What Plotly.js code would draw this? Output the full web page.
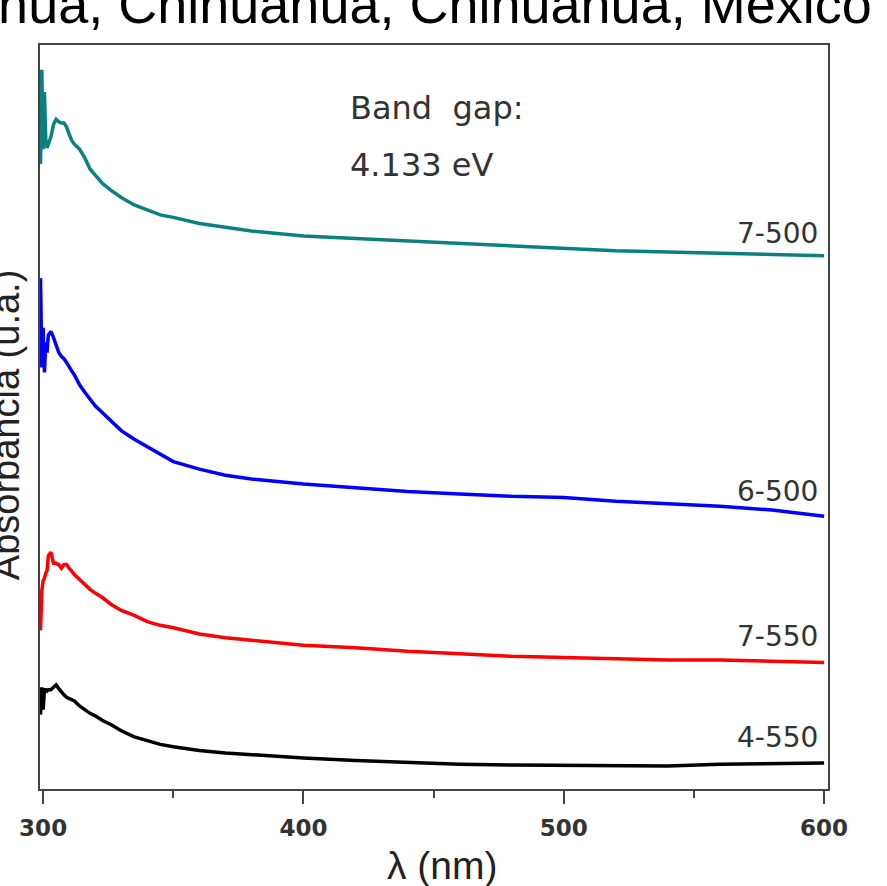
<!DOCTYPE html>
<html>
<head>
<meta charset="utf-8">
<script src="https://cdn.plot.ly/plotly-3.0.1.min.js"></script>
<style>
  html, body { margin: 0; padding: 0; background: #fff; overflow: hidden; }
  #chart { width: 887px; height: 886px; }
</style>
</head>
<body>
<div id="chart"></div>
<script>
// Wavelength grid (nm), finer where the spectra are noisy near 300 nm
const wavelength = [299, 299.5, 300, 300.5, 301, 301.5, 302, 303, 304, 305, 306, 307, 308, 309, 310, 311, 312,
  314, 316, 318, 320, 323, 326, 330, 335, 340, 345, 350, 360, 370, 380, 390, 400,
  420, 440, 460, 480, 500, 520, 540, 560, 580, 600];

// Absorbance (a.u.), curves stacked vertically
const abs_7_500 = [2.52, 2.90, 2.58, 2.81, 2.62, 2.585, 2.60, 2.63, 2.68, 2.70, 2.69, 2.685, 2.685, 2.67, 2.64, 2.615, 2.60,
  2.58, 2.545, 2.50, 2.475, 2.44, 2.415, 2.385, 2.355, 2.335, 2.315, 2.305, 2.28, 2.265, 2.25, 2.24, 2.23,
  2.22, 2.21, 2.20, 2.19, 2.18, 2.17, 2.165, 2.16, 2.155, 2.15];

const abs_6_500 = [2.06, 1.70, 1.86, 1.68, 1.80, 1.76, 1.83, 1.845, 1.82, 1.79, 1.76, 1.745, 1.735, 1.72, 1.70, 1.685, 1.67,
  1.63, 1.60, 1.57, 1.545, 1.515, 1.485, 1.445, 1.41, 1.38, 1.35, 1.32, 1.29, 1.265, 1.25, 1.24, 1.23,
  1.215, 1.20, 1.19, 1.18, 1.175, 1.16, 1.15, 1.14, 1.125, 1.10];

const abs_7_550 = [0.64, 0.80, 0.84, 0.85, 0.87, 0.88, 0.94, 0.955, 0.91, 0.91, 0.905, 0.89, 0.905, 0.905, 0.89, 0.875, 0.865,
  0.845, 0.825, 0.805, 0.79, 0.77, 0.745, 0.72, 0.70, 0.675, 0.66, 0.65, 0.625, 0.61, 0.60, 0.59, 0.58,
  0.57, 0.555, 0.545, 0.535, 0.53, 0.525, 0.52, 0.52, 0.515, 0.51];

const abs_4_550 = [0.30, 0.41, 0.32, 0.40, 0.40, 0.395, 0.40, 0.40, 0.41, 0.42, 0.405, 0.39, 0.38, 0.37, 0.365, 0.36, 0.355,
  0.335, 0.32, 0.305, 0.295, 0.275, 0.26, 0.235, 0.21, 0.195, 0.18, 0.17, 0.155, 0.145, 0.138, 0.13, 0.125,
  0.115, 0.108, 0.10, 0.097, 0.095, 0.093, 0.093, 0.10, 0.104, 0.105];

const seriesNames = ['7-500', '6-500', '7-550', '4-550'];
const seriesColors = ['#0b8080', '#0000ff', '#ff0000', '#000000'];
const seriesValues = [abs_7_500, abs_6_500, abs_7_550, abs_4_550];
// Label anchor height for each curve name, next to the right edge
const labelY = [2.238, 1.198, 0.613, 0.206];

const tickVals = [300, 400, 500, 600];
const tickText = ['300', '400', '500', '600'];

const bandGapLines = ['Band  gap:', '4.133 eV'];
const locationText = 'Chihuahua, Chihuahua, Chihuahua, México';

const traces = seriesValues.map((vals, i) => ({
  type: 'scatter',
  mode: 'lines',
  x: wavelength,
  y: vals,
  name: seriesNames[i],
  line: { color: seriesColors[i], width: 3.5 },
  hoverinfo: 'x+y+name'
}));

const frameColor = '#444444';
const labelFont = { family: 'DejaVu Sans', size: 28, color: '#333333' };

const annotations = seriesNames.map((n, i) => ({
  text: n, x: 598.5, y: labelY[i], xref: 'x', yref: 'y',
  xanchor: 'right', yanchor: 'middle', showarrow: false, font: labelFont
}));

annotations.push(
  { text: bandGapLines[0], x: 417.1, y: 2.746, xref: 'x', yref: 'y', xanchor: 'left', yanchor: 'middle',
    showarrow: false, font: { family: 'DejaVu Sans', size: 32, color: '#333333' } },
  { text: bandGapLines[1], x: 417.1, y: 2.516, xref: 'x', yref: 'y', xanchor: 'left', yanchor: 'middle',
    showarrow: false, font: { family: 'DejaVu Sans', size: 32, color: '#333333' } },
  // Location heading above the frame
  { text: locationText, x: 1.059, y: 1.0, xref: 'paper', yref: 'paper', xanchor: 'right', yanchor: 'bottom',
    yshift: 9, showarrow: false, font: { family: 'Liberation Sans', size: 54, color: '#000000' } },
  // Axis titles
  { text: 'λ (nm)', x: 0.511, y: 0, xref: 'paper', yref: 'paper', xanchor: 'center', yanchor: 'middle',
    yshift: -76, showarrow: false, font: { family: 'Liberation Sans', size: 39, color: '#222222' } },
  { text: 'Absorbancia (u.a.)', x: 0, y: 0.489, xref: 'paper', yref: 'paper', xanchor: 'center', yanchor: 'middle',
    xshift: -34, textangle: -90, showarrow: false, font: { family: 'Liberation Sans', size: 38, color: '#222222' } }
);

const layout = {
  width: 887, height: 886,
  margin: { l: 40, r: 59, t: 45, b: 97, pad: 0 },
  paper_bgcolor: '#ffffff', plot_bgcolor: '#ffffff',
  showlegend: false,
  xaxis: {
    range: [298.8, 601.5],
    tickmode: 'array', tickvals: tickVals, ticktext: tickText,
    ticks: 'outside', ticklen: 13, tickwidth: 2, tickcolor: frameColor,
    ticklabelstandoff: 4,
    minor: { dtick: 50, tick0: 350, ticks: 'outside', ticklen: 7, tickwidth: 2, tickcolor: frameColor, showgrid: false },
    tickfont: { family: 'DejaVu Sans', size: 23, color: '#333333', weight: 'bold' },
    showline: true, linecolor: frameColor, linewidth: 2, mirror: true,
    showgrid: false, zeroline: false
  },
  yaxis: {
    range: [0, 3],
    showticklabels: false, ticks: '',
    showline: true, linecolor: frameColor, linewidth: 2, mirror: true,
    showgrid: false, zeroline: false
  },
  annotations: annotations
};

Plotly.newPlot('chart', traces, layout, { displayModeBar: false, staticPlot: true });
</script>
</body>
</html>
